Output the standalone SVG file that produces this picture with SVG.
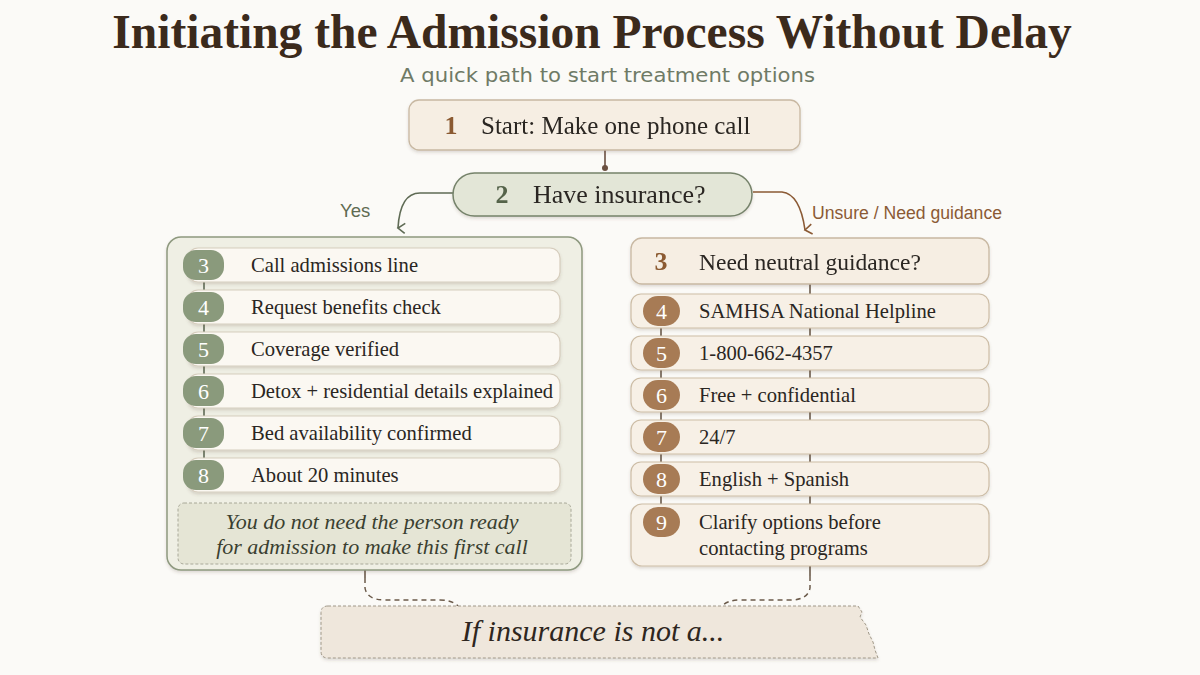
<svg xmlns="http://www.w3.org/2000/svg" width="1200" height="675" viewBox="0 0 1200 675">
<defs>
<filter id="sh" x="-5%" y="-10%" width="110%" height="130%">
<feDropShadow dx="0" dy="2" stdDeviation="1.8" flood-color="#5a4a36" flood-opacity="0.18"/>
</filter>
<marker id="arrG" markerWidth="12" markerHeight="12" refX="6" refY="10" orient="auto-start-reverse" markerUnits="userSpaceOnUse" viewBox="0 0 12 12">
<path d="M1,3 L6,10 L11,3" fill="none" stroke="#5f6b55" stroke-width="1.6"/>
</marker>
<marker id="arrB" markerWidth="12" markerHeight="12" refX="6" refY="10" orient="auto-start-reverse" markerUnits="userSpaceOnUse" viewBox="0 0 12 12">
<path d="M1,3 L6,10 L11,3" fill="none" stroke="#8b5a35" stroke-width="1.6"/>
</marker>
</defs>
<style>
.serif{font-family:"Liberation Serif","Times New Roman",serif;}
.sans{font-family:"Liberation Sans",Arial,sans-serif;}
.row{fill:#fbf8f2;stroke:#d6cdbd;stroke-width:1.2;}
.rrow{fill:#f7f0e6;stroke:#cdbda6;stroke-width:1.2;}
.gb{fill:#8a9a7c;}
.bb{fill:#a77b55;}
.bn{font-family:"Liberation Serif",serif;font-size:22px;fill:#ffffff;text-anchor:middle;}
.rt{font-family:"Liberation Serif",serif;font-size:20.6px;fill:#2a2622;}
.tick{stroke:#6b5a4a;stroke-width:1.6;}
.gtick{stroke:#5f6b55;stroke-width:1.6;}
</style>
<rect width="1200" height="675" fill="#fbfaf7"/>

<text class="serif" x="592" y="48" font-size="47.5" font-weight="bold" fill="#3b2a1c" text-anchor="middle">Initiating the Admission Process Without Delay</text>
<text x="400" y="82" font-family="'DejaVu Sans','Liberation Sans',sans-serif" font-size="20" fill="#6f7a66" textLength="415" lengthAdjust="spacingAndGlyphs">A quick path to start treatment options</text>

<g id="connectors" fill="none">
<line x1="605" y1="150" x2="605" y2="167" stroke="#6b5040" stroke-width="1.6"/>
<circle cx="605" cy="168" r="3" fill="#6b5040"/>
<path d="M453,193 L420,193 Q400,193 398,228" stroke="#5f6b55" stroke-width="1.6" marker-end="url(#arrG)"/>
<path d="M753,192 L782,192 Q800,194 805,230" stroke="#8b5a35" stroke-width="1.6" marker-end="url(#arrB)"/>
<line x1="365" y1="570" x2="365" y2="578" class="tick"/>
<path d="M365,578 L365,588 Q367,600 385,600 L440,600 Q452,600 458,606" stroke="#6b5a4a" stroke-width="1.5" stroke-dasharray="5,4"/>
<line x1="810" y1="566" x2="810" y2="576" class="tick"/>
<path d="M810,576 L810,588 Q808,600 790,600 L740,600 Q728,600 722,606" stroke="#6b5a4a" stroke-width="1.5" stroke-dasharray="5,4"/>
<line x1="810" y1="284" x2="810" y2="294" class="tick"/>
<line x1="810" y1="328" x2="810" y2="336" class="tick"/>
<line x1="810" y1="370" x2="810" y2="378" class="tick"/>
<line x1="810" y1="412" x2="810" y2="420" class="tick"/>
<line x1="810" y1="454" x2="810" y2="462" class="tick"/>
<line x1="810" y1="496" x2="810" y2="504" class="tick"/>
</g>

<g id="labels">
<text class="sans" x="340" y="217" font-size="18.5" fill="#5f6b52">Yes</text>
<text class="sans" x="812" y="219" font-size="18" fill="#8b5a35" textLength="190" lengthAdjust="spacingAndGlyphs">Unsure / Need guidance</text>
</g>

<g id="node1" filter="url(#sh)">
<rect x="409" y="100" width="391" height="50" rx="10" fill="#f6eee3" stroke="#c8b8a2" stroke-width="1.3"/>
<text class="serif" x="451" y="134" font-size="26" font-weight="bold" fill="#8b5a30" text-anchor="middle">1</text>
<text class="serif" x="481" y="134" font-size="25" fill="#2a2622">Start: Make one phone call</text>
</g>

<g id="node2" filter="url(#sh)">
<rect x="453" y="173" width="299" height="43" rx="21.5" fill="#e3e6d7" stroke="#75826a" stroke-width="1.5"/>
<text class="serif" x="502" y="203" font-size="26" font-weight="bold" fill="#55634a" text-anchor="middle">2</text>
<text class="serif" x="533" y="203" font-size="26" fill="#2a2622">Have insurance?</text>
</g>

<g id="yes-panel">
<rect x="167" y="237" width="415" height="333" rx="14" fill="#efefe4" stroke="#8e997f" stroke-width="1.5" filter="url(#sh)"/>
<g class="gtick">
<line x1="204" y1="280" x2="204" y2="292"/>
<line x1="204" y1="322" x2="204" y2="334"/>
<line x1="204" y1="364" x2="204" y2="376"/>
<line x1="204" y1="406" x2="204" y2="418"/>
<line x1="204" y1="448" x2="204" y2="460"/>
</g>
<g id="yes3">
<rect class="row" x="188" y="248" width="372" height="34" rx="10" filter="url(#sh)"/>
<rect class="gb" x="183" y="250" width="41" height="30" rx="13"/>
<text class="bn" x="203.5" y="273">3</text>
<text class="rt" x="251" y="272">Call admissions line</text>
</g>
<g id="yes4">
<rect class="row" x="188" y="290" width="372" height="34" rx="10" filter="url(#sh)"/>
<rect class="gb" x="183" y="292" width="41" height="30" rx="13"/>
<text class="bn" x="203.5" y="315">4</text>
<text class="rt" x="251" y="314">Request benefits check</text>
</g>
<g id="yes5">
<rect class="row" x="188" y="332" width="372" height="34" rx="10" filter="url(#sh)"/>
<rect class="gb" x="183" y="334" width="41" height="30" rx="13"/>
<text class="bn" x="203.5" y="357">5</text>
<text class="rt" x="251" y="356">Coverage verified</text>
</g>
<g id="yes6">
<rect class="row" x="188" y="374" width="372" height="34" rx="10" filter="url(#sh)"/>
<rect class="gb" x="183" y="376" width="41" height="30" rx="13"/>
<text class="bn" x="203.5" y="399">6</text>
<text class="rt" x="251" y="398">Detox + residential details explained</text>
</g>
<g id="yes7">
<rect class="row" x="188" y="416" width="372" height="34" rx="10" filter="url(#sh)"/>
<rect class="gb" x="183" y="418" width="41" height="30" rx="13"/>
<text class="bn" x="203.5" y="441">7</text>
<text class="rt" x="251" y="440">Bed availability confirmed</text>
</g>
<g id="yes8">
<rect class="row" x="188" y="458" width="372" height="34" rx="10" filter="url(#sh)"/>
<rect class="gb" x="183" y="460" width="41" height="30" rx="13"/>
<text class="bn" x="203.5" y="483">8</text>
<text class="rt" x="251" y="482">About 20 minutes</text>
</g>
<g id="yes-note">
<rect x="178" y="503" width="393" height="61" rx="6" fill="#e5e5d5" stroke="#a8a898" stroke-width="1" stroke-dasharray="3,2"/>
<text class="serif" x="372" y="529" font-size="22" font-style="italic" fill="#3a3f30" text-anchor="middle">You do not need the person ready</text>
<text class="serif" x="372" y="554" font-size="22" font-style="italic" fill="#3a3f30" text-anchor="middle">for admission to make this first call</text>
</g>
</g>

<g id="guide-panel">
<g id="g3" filter="url(#sh)">
<rect x="631" y="238" width="358" height="46" rx="11" fill="#f6eee3" stroke="#c8b8a2" stroke-width="1.3"/>
<text class="serif" x="661" y="270" font-size="26" font-weight="bold" fill="#8b5a30" text-anchor="middle">3</text>
<text class="serif" x="699" y="270" font-size="23.5" fill="#2a2622">Need neutral guidance?</text>
</g>
<g class="tick">
<line x1="661" y1="324" x2="661" y2="338"/>
<line x1="661" y1="366" x2="661" y2="380"/>
<line x1="661" y1="408" x2="661" y2="422"/>
<line x1="661" y1="450" x2="661" y2="464"/>
<line x1="661" y1="492" x2="661" y2="508"/>
</g>
<g id="g4">
<rect class="rrow" x="631" y="294" width="358" height="34" rx="10" filter="url(#sh)"/>
<rect class="bb" x="643" y="296" width="37" height="30" rx="15"/>
<text class="bn" x="661.5" y="319">4</text>
<text class="rt" x="699" y="318">SAMHSA National Helpline</text>
</g>
<g id="g5">
<rect class="rrow" x="631" y="336" width="358" height="34" rx="10" filter="url(#sh)"/>
<rect class="bb" x="643" y="338" width="37" height="30" rx="15"/>
<text class="bn" x="661.5" y="361">5</text>
<text class="rt" x="699" y="360">1-800-662-4357</text>
</g>
<g id="g6">
<rect class="rrow" x="631" y="378" width="358" height="34" rx="10" filter="url(#sh)"/>
<rect class="bb" x="643" y="380" width="37" height="30" rx="15"/>
<text class="bn" x="661.5" y="403">6</text>
<text class="rt" x="699" y="402">Free + confidential</text>
</g>
<g id="g7">
<rect class="rrow" x="631" y="420" width="358" height="34" rx="10" filter="url(#sh)"/>
<rect class="bb" x="643" y="422" width="37" height="30" rx="15"/>
<text class="bn" x="661.5" y="445">7</text>
<text class="rt" x="699" y="444">24/7</text>
</g>
<g id="g8">
<rect class="rrow" x="631" y="462" width="358" height="34" rx="10" filter="url(#sh)"/>
<rect class="bb" x="643" y="464" width="37" height="30" rx="15"/>
<text class="bn" x="661.5" y="487">8</text>
<text class="rt" x="699" y="486">English + Spanish</text>
</g>
<g id="g9">
<rect class="rrow" x="631" y="504" width="358" height="62" rx="11" filter="url(#sh)"/>
<rect class="bb" x="643" y="507" width="37" height="30" rx="15"/>
<text class="bn" x="661.5" y="530">9</text>
<text class="rt" x="699" y="529">Clarify options before</text>
<text class="rt" x="699" y="555">contacting programs</text>
</g>
</g>

<g id="bottom-note">
<path d="M328,606 L858,606 L862,612 L860,617 L866,625 L869,634 L873,642 L875,650 L878,658 L328,658 Q321,658 321,651 L321,613 Q321,606 328,606 Z" fill="#efe7dc" stroke="#a09888" stroke-width="1" stroke-dasharray="3,2" filter="url(#sh)"/>
<text class="serif" x="593" y="641" font-size="30" font-style="italic" fill="#2e2620" text-anchor="middle">If insurance is not a...</text>
</g>
</svg>
